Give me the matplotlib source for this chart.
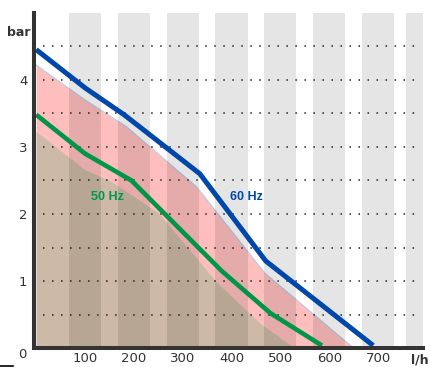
import matplotlib
matplotlib.use("Agg")
import matplotlib.pyplot as plt
from matplotlib.lines import Line2D

# ---- data ----
flow_60 = [0, 100, 180, 335, 470, 690]
bar_60 = [4.45, 3.88, 3.48, 2.60, 1.30, 0.04]

flow_50 = [0, 100, 195, 380, 480, 585]
bar_50 = [3.48, 2.90, 2.50, 1.15, 0.52, 0.04]

flow_pink = [0, 100, 185, 329, 468, 650]
bar_pink = [4.22, 3.70, 3.30, 2.40, 1.12, 0.0]

flow_brown = [0, 100, 150, 250, 370, 460, 530]
bar_brown = [3.23, 2.66, 2.50, 2.02, 0.98, 0.36, 0.0]

x_ticks = [100, 200, 300, 400, 500, 600, 700]
x_ticklabels = ["100", "200", "300", "400", "500", "600", "700"]
y_ticks = [1, 2, 3, 4]
y_ticklabels = ["1", "2", "3", "4"]
grid_levels = [0.5, 1.0, 1.5, 2.0, 2.5, 3.0, 3.5, 4.0, 4.5]
band_centers = [100, 200, 300, 400, 500, 600, 700]

fig = plt.figure(figsize=(4.30, 3.67), dpi=100)
ax = fig.add_axes([34.2 / 430, 18.8 / 367, (423 - 34.2) / 430, (348.2 - 12.7) / 367])
ax.set_xlim(-4, 792)
ax.set_ylim(0, 5)

# filled regions
ax.fill_between(flow_pink, 0, bar_pink, color="#ffbebe", lw=0, zorder=1)
ax.plot(flow_pink, bar_pink, color="#b8c8e4", lw=0.8, zorder=1.2)
ax.fill_between(flow_brown, 0, bar_brown, color="#cdb9a7", lw=0, zorder=1.1)

# vertical grey bands
for c in band_centers:
    ax.axvspan(c - 33, c + 33, color="black", alpha=0.1, lw=0, zorder=2)
ax.axvspan(757, 792, color="black", alpha=0.1, lw=0, zorder=2)

# dotted grid
ax.hlines(grid_levels, 14, 784, colors="#222222", linestyles=(0, (1, 4.9)), lw=1.1, zorder=3)

# curves
ax.plot(flow_60, bar_60, color="#0047ab", lw=3.6, solid_capstyle="butt", zorder=4)
ax.plot(flow_50, bar_50, color="#009648", lw=3.3, solid_capstyle="butt", zorder=4)

lbl_font = ["Liberation Sans Narrow", "Liberation Sans", "DejaVu Sans"]
ax.text(431, 2.25, "60 Hz", color="#0047ab", fontsize=9, fontweight="bold",
        family=lbl_font, ha="center", va="center", zorder=5)
ax.text(146, 2.26, "50 Hz", color="#009648", fontsize=9, fontweight="bold",
        family=lbl_font, ha="center", va="center", zorder=5)

# spines
for s in ["top", "right"]:
    ax.spines[s].set_visible(False)
for s in ["left", "bottom"]:
    ax.spines[s].set_linewidth(2.9)
    ax.spines[s].set_color("#333333")
    ax.spines[s].set_zorder(6)
ax.spines["bottom"].set_capstyle("projecting")

ax.set_xticks(x_ticks)
ax.set_xticklabels(x_ticklabels)
ax.set_yticks(y_ticks)
ax.set_yticklabels(y_ticklabels)
ax.tick_params(axis="both", length=0, labelsize=9.5, colors="#333333")
ax.tick_params(axis="x", pad=3)
ax.tick_params(axis="y", pad=5)
ax.set_facecolor("white")

fig.text(22 / 430, 1 - 354 / 367, "0", ha="center", va="center", fontsize=9.5, color="#333333")
fig.text(18.5 / 430, 1 - 32 / 367, "bar", ha="center", va="center", fontsize=9,
         fontweight="bold", color="#333333")
fig.text(420 / 430, 1 - 360 / 367, "l/h", ha="center", va="center", fontsize=9,
         fontweight="bold", color="#333333")
fig.add_artist(Line2D([0, 13 / 430], [0.6 / 367, 0.6 / 367], color="black", lw=1.2))

fig.savefig("out.png", dpi=100)
